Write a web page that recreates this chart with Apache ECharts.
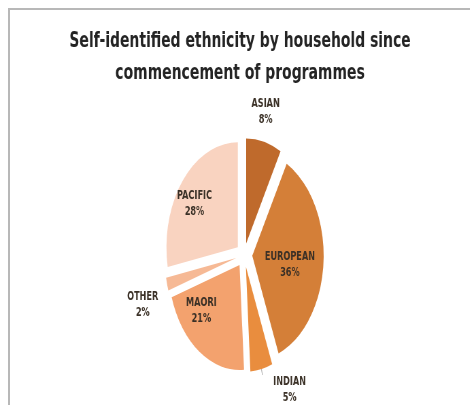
<!DOCTYPE html>
<html>
<head>
<meta charset="utf-8">
<script src="https://cdn.jsdelivr.net/npm/echarts@6/dist/echarts.min.js"></script>
<style>
  html, body { margin: 0; padding: 0; background: #ffffff; overflow: hidden; width: 470px; height: 405px; }
  #frame { position: absolute; left: 8px; top: 8px; width: 470px; height: 410px;
           border-top: 2px solid #b8b8b8; border-left: 2px solid #b8b8b8; box-sizing: border-box; }
  #chart { position: absolute; left: 0; top: 0; width: 706px; height: 405px;
           transform: scaleX(0.68); transform-origin: 0 0; }
</style>
</head>
<body>
<div id="frame"></div>
<div id="chart"></div>
<script>
// ---- data ----
const titleLines = ['Self-identified ethnicity by household since', 'commencement of programmes'];
const categories = ['ASIAN', 'EUROPEAN', 'INDIAN', 'MAORI', 'OTHER', 'PACIFIC'];
const shares = [8, 36, 5, 21, 2, 28];

// ---- styling (kept separate from the data) ----
const sliceColors = {
  ASIAN: '#bf6a2c', EUROPEAN: '#d47f38', INDIAN: '#e98d3e',
  MAORI: '#f3a26e', OTHER: '#f6b995', PACIFIC: '#f9d3c0'
};
const outsideLabel = { ASIAN: true, INDIAN: true, OTHER: true };
const labelShift = {
  ASIAN: [-44, -24], EUROPEAN: [0, 6], INDIAN: [-5, 15],
  MAORI: [-25, 0], OTHER: [15, 19], PACIFIC: [-21, -8]
};

const pieData = categories.map(function (name, i) {
  const outside = !!outsideLabel[name];
  return {
    name: name,
    value: shares[i],
    selected: true,
    itemStyle: { color: sliceColors[name] },
    label: { position: outside ? 'outside' : 'inside' },
    labelLine: { show: name === 'INDIAN', length: 6, length2: 0,
                 lineStyle: { color: '#a0a0a0', width: 1 } }
  };
});

const labelText = {
  width: 80, align: 'center',
  fontFamily: 'DejaVu Sans', fontWeight: 'bold', fontSize: 12,
  lineHeight: 16, color: '#3a3026'
};

const chart = echarts.init(document.getElementById('chart'), null, { renderer: 'canvas' });
chart.setOption({
  animation: false,
  backgroundColor: 'transparent',
  title: {
    text: titleLines.join('\n'),
    left: 'center',
    top: 21,
    textStyle: {
      fontFamily: 'DejaVu Sans', fontWeight: 'bold', fontSize: 20.5,
      lineHeight: 32, color: '#242424'
    }
  },
  series: [{
    type: 'pie',
    center: [359, 255],
    radius: 105,
    startAngle: 90,
    clockwise: true,
    selectedMode: 'multiple',
    selectedOffset: 12,
    avoidLabelOverlap: false,
    emphasis: { disabled: true },
    label: {
      show: true,
      formatter: function (p) { return '{t|' + p.name + '}\n{t|' + p.value + '%}'; },
      rich: { t: labelText },
      fontFamily: 'DejaVu Sans', fontWeight: 'bold', fontSize: 12,
      lineHeight: 16, color: '#3a3026'
    },
    labelLayout: function (params) {
      const s = labelShift[categories[params.dataIndex]] || [0, 0];
      return { dx: s[0], dy: s[1] };
    },
    data: pieData
  }]
});
</script>
</body>
</html>
